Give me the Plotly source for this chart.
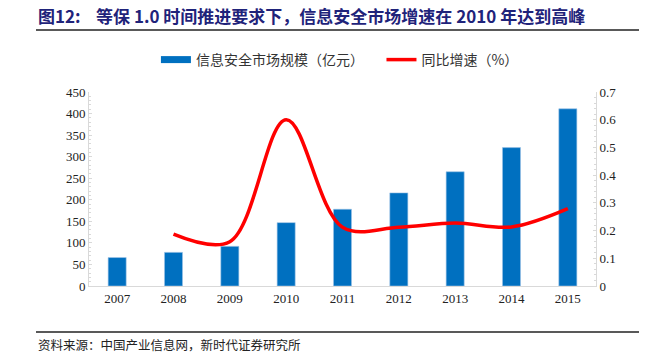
import plotly.graph_objects as go

years = ["2007", "2008", "2009", "2010", "2011", "2012", "2013", "2014", "2015"]
market_size = [66, 78, 92, 147, 178, 216, 265, 321, 411]
growth_years = ["2008", "2009", "2010", "2011", "2012", "2013", "2014", "2015"]
growth_rate = [0.187, 0.160, 0.600, 0.212, 0.212, 0.227, 0.213, 0.279]

bar_name = "信息安全市场规模（亿元）"
line_name = "同比增速（%）"
title_text = "图12:    等保 1.0 时间推进要求下，信息安全市场增速在 2010 年达到高峰"
source_text = "资料来源：中国产业信息网，新时代证券研究所"

BLUE = "#0070C0"
RED = "#FF0000"
CJK = "Noto Sans CJK SC"
SERIF = "Liberation Serif"

fig = go.Figure()
fig.add_trace(go.Bar(x=years, y=market_size, name=bar_name, marker_color=BLUE,
                     marker_line_color="#9DC3E6", marker_line_width=0.6,
                     showlegend=False, yaxis="y"))
# legend proxy for the bar series (wide flat patch like the original)
fig.add_trace(go.Scatter(x=[None], y=[None], mode="lines", name=bar_name + "\u00a0" * 4,
                         line=dict(color=BLUE, width=7), yaxis="y"))
fig.add_trace(go.Scatter(x=growth_years, y=growth_rate, name=line_name, mode="lines",
                         line=dict(color=RED, width=3.5, shape="spline", smoothing=1.0),
                         yaxis="y2"))

axis_gray = "#D9D9D9"
PH = 194  # plot height in px
PW = 507  # plot width in px
fig.update_layout(
    width=655, height=354,
    margin=dict(l=89, r=59, t=92, b=68),
    paper_bgcolor="white", plot_bgcolor="white",
    bargap=0.68,
    font=dict(family=SERIF, size=13, color="#222222"),
    xaxis=dict(type="category", showline=True, linecolor=axis_gray, linewidth=1,
               ticks="", tickfont=dict(family=SERIF, size=13, color="#222222"),
               showgrid=False, zeroline=False),
    yaxis=dict(range=[0, 450], dtick=50, showgrid=False, zeroline=False,
               showline=True, linecolor=axis_gray, linewidth=1,
               ticks="inside", ticklen=3, tickcolor=axis_gray,
               minor=dict(dtick=10, ticks="inside", ticklen=2, tickcolor=axis_gray),
               tickfont=dict(family=SERIF, size=13, color="#222222")),
    yaxis2=dict(range=[0, 0.7], dtick=0.1, overlaying="y", side="right",
                showgrid=False, zeroline=False, showline=True, linecolor=axis_gray,
                linewidth=1, ticks="inside", ticklen=3, tickcolor=axis_gray,
                minor=dict(dtick=0.02, ticks="inside", ticklen=2, tickcolor=axis_gray),
                tickformat="~g",
                tickfont=dict(family=SERIF, size=13, color="#222222")),
    legend=dict(orientation="h", x=0.132, y=1 + (92 - 60) / PH, xanchor="left",
                yanchor="middle",
                font=dict(family=CJK, size=14, color="#333333"),
                bgcolor="rgba(0,0,0,0)", itemwidth=30, tracegroupgap=0),
    shapes=[
        dict(type="line", xref="paper", yref="paper",
             x0=(36 - 89) / PW, x1=(639 - 89) / PW,
             y0=1 + (92 - 30) / PH, y1=1 + (92 - 30) / PH,
             line=dict(color="#222222", width=1.5)),
        dict(type="line", xref="paper", yref="paper",
             x0=(36 - 89) / PW, x1=(639 - 89) / PW,
             y0=-(332 - 286) / PH, y1=-(332 - 286) / PH,
             line=dict(color="#222222", width=1.5)),
    ],
    annotations=[
        dict(text="<b>" + title_text + "</b>", xref="paper", yref="paper",
             x=(36 - 89) / PW, y=1 + (92 - 15) / PH, xanchor="left", yanchor="middle",
             showarrow=False, font=dict(family=CJK, size=17, color="#1F237A")),
        dict(text=source_text, xref="paper", yref="paper",
             x=(36 - 89) / PW, y=-(344 - 286) / PH, xanchor="left", yanchor="middle",
             showarrow=False, font=dict(family=CJK, size=12.5, color="#222222")),
    ],
)

fig.write_html("out.html")
